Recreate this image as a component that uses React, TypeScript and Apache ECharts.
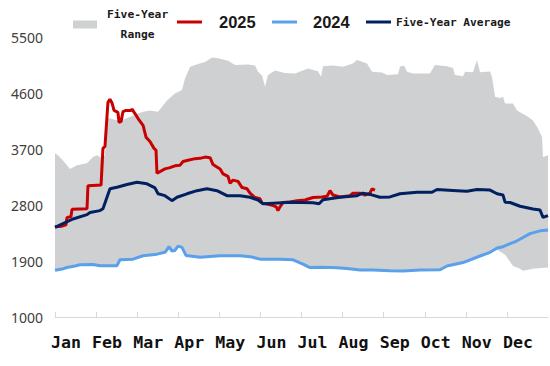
import React, { useEffect, useRef } from 'react';
import * as echarts from 'echarts';

// x = day of year (0..365), y = value
const months = ['Jan', 'Feb', 'Mar', 'Apr', 'May', 'Jun', 'Jul', 'Aug', 'Sep', 'Oct', 'Nov', 'Dec'];
const yMin = 1000;
const yMax = 5500;
const yStep = 900;

const series2025: [number, number][] = [
  [0, 2450], [5.2, 2460], [8.1, 2480], [8.9, 2600], [11.8, 2610], [12.6, 2730], [23.7, 2740],
  [24.4, 3110], [34.1, 3120], [35.5, 3710], [37.0, 3740], [39.2, 4450], [40.7, 4500], [42.2, 4440],
  [43.7, 4320], [46.6, 4290], [47.4, 4130], [48.9, 4140], [50.3, 4300], [52.6, 4320], [56.3, 4320],
  [57.0, 4340], [59.2, 4270], [61.5, 4190], [65.2, 4080], [67.4, 3890], [70.3, 3820], [73.3, 3710],
  [74.8, 3680], [75.5, 3310], [81.4, 3380], [85.1, 3400], [88.8, 3430], [92.6, 3440], [94.8, 3500],
  [98.5, 3520], [103.7, 3545], [107.4, 3550], [111.1, 3570], [114.8, 3560], [117.0, 3450],
  [122.2, 3380], [124.4, 3300], [128.1, 3260], [129.6, 3150], [131.8, 3200], [135.5, 3180],
  [138.5, 3080], [142.2, 3060], [144.4, 2990], [148.1, 2920], [151.8, 2900], [153.3, 2830],
  [157.7, 2810], [161.5, 2790], [163.8, 2770], [165.1, 2710], [166.6, 2770], [168.8, 2840],
  [174.0, 2850], [179.2, 2870], [185.1, 2880], [191.0, 2920], [197.7, 2930], [201.4, 2940],
  [203.6, 3030], [205.8, 2960], [211.0, 2930], [218.4, 2950], [220.6, 2990], [225.8, 2990],
  [229.5, 2960], [233.2, 2990], [234.7, 3060], [236.9, 3040],
];

const series2024: [number, number][] = [
  [0, 1750], [5.2, 1770], [8.9, 1795], [14.8, 1820], [18.5, 1840], [28.1, 1845], [33.3, 1825],
  [45.9, 1825], [48.1, 1920], [57.8, 1930], [65.2, 1985], [75.5, 2010], [81.4, 2040], [82.9, 2080],
  [84.4, 2130], [86.6, 2060], [88.8, 2070], [91.1, 2140], [94.0, 2120], [97.0, 1990], [107.4, 1960],
  [122.2, 1985], [137.0, 1985], [144.4, 1970], [151.8, 1930], [166.6, 1930], [176.2, 1920],
  [183.6, 1850], [188.8, 1795], [198.4, 1800], [208.8, 1790], [216.2, 1780], [225.8, 1755],
  [235.4, 1755], [248.0, 1745], [257.7, 1740], [270.2, 1755], [285.1, 1760], [290.2, 1820],
  [302.1, 1875], [314.7, 1980], [322.1, 2040], [327.3, 2110], [331.7, 2130], [337.0, 2180],
  [342.1, 2225], [351.7, 2340], [359.1, 2385], [365, 2400],
];

const seriesAverage: [number, number][] = [
  [0, 2440], [5.9, 2500], [13.3, 2575], [23.7, 2645], [25.9, 2680], [33.3, 2710], [35.5, 2740],
  [38.5, 2925], [40.7, 3060], [45.9, 3085], [53.3, 3130], [60.7, 3165], [68.1, 3140], [74.0, 3075],
  [76.3, 2980], [81.4, 2950], [86.6, 2870], [90.3, 2925], [97.7, 2980], [105.1, 3030], [112.5, 3060],
  [119.9, 3030], [127.3, 2950], [137.0, 2950], [144.4, 2925], [150.3, 2880], [154.0, 2820],
  [161.5, 2830], [174.0, 2845], [191.0, 2835], [195.5, 2820], [198.4, 2885], [211.0, 2925],
  [223.6, 2950], [228.0, 2990], [233.2, 2970], [240.6, 2925], [248.0, 2930], [255.4, 2980],
  [268.0, 3005], [279.1, 3005], [282.8, 3050], [297.6, 3030], [305.0, 3020], [312.4, 3050],
  [322.1, 3040], [327.3, 2980], [331.7, 2960], [333.2, 2845], [336.9, 2840], [344.3, 2780],
  [353.9, 2735], [359.1, 2720], [361.3, 2600], [365, 2630],
];

const rangeHigh: [number, number][] = [
  [0, 3630], [2.2, 3600], [5.9, 3516], [11.1, 3380], [16.3, 3440], [23.7, 3470], [28.1, 3570],
  [31.1, 3600], [34.8, 3550], [37.0, 3600], [39.2, 4200], [48.1, 4150], [59.2, 4250], [65.2, 4300],
  [70.3, 4320], [76.3, 4300], [82.9, 4480], [88.8, 4590], [94.0, 4650], [96.2, 4830], [100.0, 5020],
  [105.9, 5065], [111.1, 5100], [116.2, 5170], [120.7, 5160], [128.1, 5120], [133.3, 5050],
  [142.9, 5060], [148.1, 5040], [150.3, 4940], [153.3, 4880], [155.5, 4700], [157.7, 4890],
  [162.9, 4960], [170.3, 4920], [177.7, 4915], [187.3, 4995], [194.7, 4950], [197.0, 4860],
  [198.4, 5030], [205.8, 5040], [213.2, 5020], [220.6, 5075], [223.6, 5130], [231.0, 5075],
  [234.7, 4940], [242.1, 4930], [245.8, 4890], [254.0, 4900], [255.4, 5020], [258.4, 5040],
  [260.6, 4940], [265.0, 4915], [277.6, 4915], [281.3, 5050], [290.2, 5030], [294.7, 5000],
  [296.1, 4890], [302.1, 4870], [303.6, 4940], [309.5, 4935], [312.4, 5130], [314.7, 4935],
  [322.1, 4945], [323.6, 4850], [325.8, 4540], [329.5, 4520], [331.7, 4540], [333.2, 4430],
  [339.1, 4430], [342.1, 4320], [349.5, 4225], [353.9, 4160], [357.6, 4030], [360.6, 3890],
  [361.3, 3570], [365, 3600],
];

const rangeLow: [number, number][] = [
  [0, 1750], [5.2, 1770], [8.9, 1795], [14.8, 1820], [18.5, 1840], [28.1, 1845], [33.3, 1825],
  [45.9, 1825], [48.1, 1920], [57.8, 1930], [65.2, 1985], [75.5, 2010], [81.4, 2040], [82.9, 2080],
  [84.4, 2130], [86.6, 2060], [88.8, 2070], [91.1, 2140], [94.0, 2120], [97.0, 1990], [107.4, 1960],
  [122.2, 1985], [137.0, 1985], [144.4, 1970], [151.8, 1930], [166.6, 1930], [176.2, 1920],
  [183.6, 1850], [188.8, 1795], [198.4, 1800], [208.8, 1790], [216.2, 1780], [225.8, 1755],
  [235.4, 1755], [248.0, 1745], [257.7, 1740], [270.2, 1755], [285.1, 1760], [290.2, 1820],
  [302.1, 1875], [314.7, 1980], [322.1, 2040], [327.3, 2080], [333.2, 2000], [335.4, 1935],
  [339.1, 1820], [344.3, 1775], [346.5, 1745], [353.9, 1775], [365, 1795],
];

const MONO = '"DejaVu Sans Mono", monospace';

export default function App() {
  const ref = useRef<HTMLDivElement>(null);
  useEffect(() => {
    if (!ref.current) return;
    const chart = echarts.init(ref.current, undefined, { renderer: 'svg' });
    const monthLen = 365 / 12;
    const lineLegendCommon = {
      icon: 'rect',
      itemWidth: 25,
      itemHeight: 3,
      padding: 0,
      selectedMode: false as const,
    };
    chart.setOption({
      animation: false,
      backgroundColor: '#ffffff',
      grid: { left: 55, right: 2, top: 37, bottom: 49, containLabel: false },
      legend: [
        {
          data: ['Five-Year Range'],
          left: 73,
          top: 9,
          icon: 'rect',
          itemWidth: 24,
          itemHeight: 8,
          padding: 0,
          selectedMode: false,
          formatter: () => '{a|Five-Year}\n{a|Range}',
          textStyle: {
            padding: [0, 0, 0, 5],
            rich: {
              a: {
                fontFamily: MONO,
                fontWeight: 'bold',
                fontSize: 11.3,
                lineHeight: 20,
                color: '#1a1a1a',
                align: 'center',
              },
            },
          },
        },
        {
          ...lineLegendCommon,
          data: ['2025'],
          left: 177,
          top: 12,
          textStyle: {
            fontFamily: '"Liberation Sans", Arial, sans-serif',
            fontWeight: 'bold',
            fontSize: 16.5,
            lineHeight: 20,
            color: '#1a1a1a',
            padding: [0, 0, 0, 12],
          },
        },
        {
          ...lineLegendCommon,
          data: ['2024'],
          left: 272,
          top: 12,
          textStyle: {
            fontFamily: '"Liberation Sans", Arial, sans-serif',
            fontWeight: 'bold',
            fontSize: 16.5,
            lineHeight: 20,
            color: '#1a1a1a',
            padding: [0, 0, 0, 11],
          },
        },
        {
          ...lineLegendCommon,
          data: ['Five-Year Average'],
          left: 366,
          top: 12,
          textStyle: {
            fontFamily: MONO,
            fontWeight: 'bold',
            fontSize: 11.2,
            lineHeight: 20,
            color: '#1a1a1a',
          },
        },
      ],
      xAxis: {
        type: 'value',
        min: 0,
        max: 365,
        interval: monthLen,
        z: 5,
        splitLine: { show: false },
        axisLine: { show: true, lineStyle: { color: '#d9d9d9', width: 1 } },
        axisTick: { show: true, inside: true, length: 5, lineStyle: { color: '#d9d9d9' } },
        axisLabel: {
          margin: 17,
          showMaxLabel: false,
          formatter: (v: number) => months[Math.round(v / monthLen)] ?? '',
          fontFamily: MONO,
          fontWeight: 'bold',
          fontSize: 16.6,
          color: '#111111',
          padding: [0, 0, 0, 22],
        },
      },
      yAxis: {
        type: 'value',
        min: yMin,
        max: yMax,
        interval: yStep,
        splitLine: { show: false },
        axisLine: { show: false },
        axisTick: { show: false },
        axisLabel: {
          margin: 12,
          formatter: (v: number) => String(v),
          fontFamily: '"Noto Sans", sans-serif',
          fontSize: 14,
          color: '#404040',
        },
      },
      series: [
        {
          name: 'Five-Year Range',
          type: 'line',
          data: rangeHigh,
          symbol: 'none',
          silent: true,
          itemStyle: { color: '#cfd0d1' },
          lineStyle: { width: 0, color: '#cfd0d1' },
          areaStyle: { color: '#cfd0d1', opacity: 1, origin: 'start' },
          z: 1,
        },
        {
          name: 'rangeLowMask',
          type: 'line',
          data: rangeLow,
          symbol: 'none',
          silent: true,
          lineStyle: { width: 0, color: '#ffffff' },
          areaStyle: { color: '#ffffff', opacity: 1, origin: 'start' },
          z: 1,
        },
        {
          name: '2024',
          type: 'line',
          data: series2024,
          symbol: 'none',
          itemStyle: { color: '#5aa0ea' },
          lineStyle: { width: 3, color: '#5aa0ea' },
          z: 3,
        },
        {
          name: '2025',
          type: 'line',
          data: series2025,
          symbol: 'none',
          itemStyle: { color: '#c80000' },
          lineStyle: { width: 3, color: '#c80000' },
          z: 3,
        },
        {
          name: 'Five-Year Average',
          type: 'line',
          data: seriesAverage,
          symbol: 'none',
          itemStyle: { color: '#002060' },
          lineStyle: { width: 3, color: '#002060' },
          z: 4,
        },
      ],
    });
    return () => chart.dispose();
  }, []);
  return (
    <div
      ref={ref}
      style={{ position: 'absolute', left: 0, top: 0, width: 550, height: 366, background: '#fff' }}
    />
  );
}
